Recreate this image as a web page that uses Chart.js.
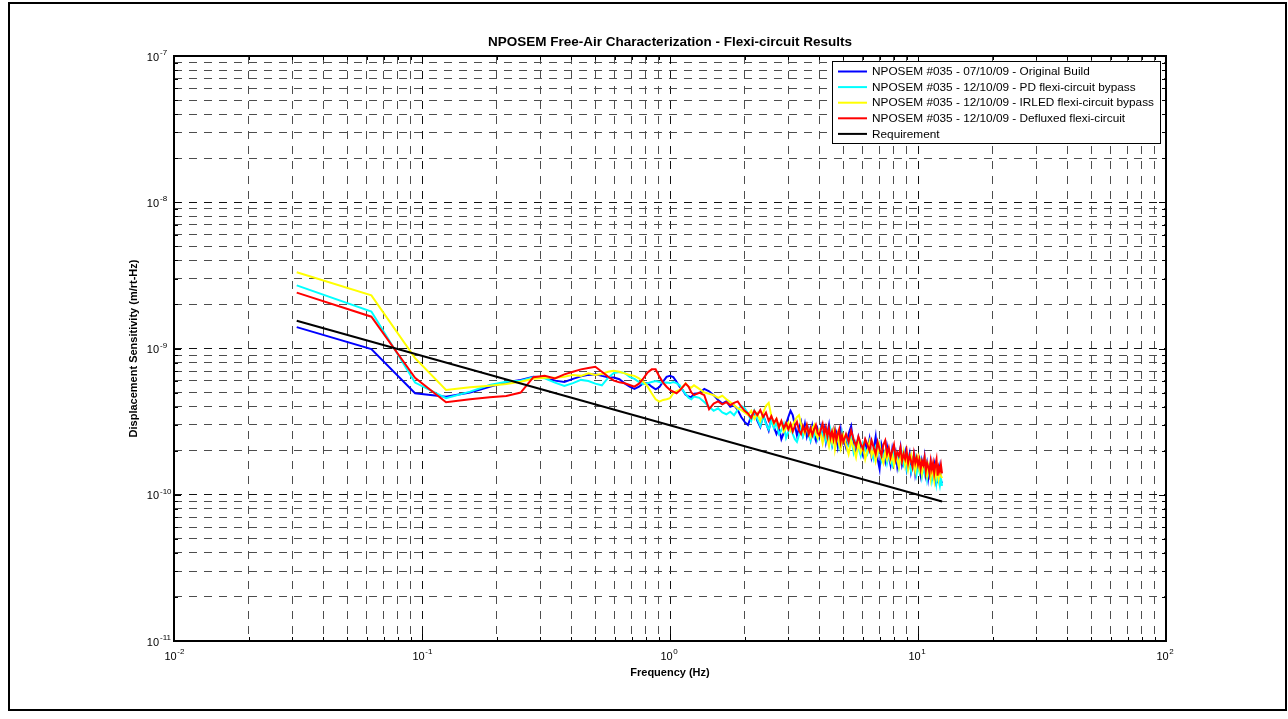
<!DOCTYPE html>
<html>
<head>
<meta charset="utf-8">
<title>NPOSEM Free-Air Characterization</title>
<script src="https://cdn.jsdelivr.net/npm/chart.js@4/dist/chart.umd.min.js"></script>
<style>
    body { margin: 0; background: #fff; }
    canvas { display: block; }
</style>
</head>
<body>
<canvas id="sensChart" width="1288" height="719"></canvas>
<script>
// FFT bins at 1/32 Hz, every bin up to 1.25 Hz, then thinned out
const bins = [];
for (let k = 1; k <= 40; k++) bins.push(k);
for (let k = 42; k <= 160; k += 2) bins.push(k);
for (let k = 164; k <= 400; k += 4) bins.push(k);
const freqHz = bins.map(k => k / 32);

// sensitivity in units of 1e-10 m/rt-Hz, one value per bin
const originalBuild = [
    14.0, 9.9, 4.94, 4.68, 5.0, 5.48, 5.87, 6.09, 6.42, 6.35, 6.03, 5.9, 6.2, 6.45, 6.6, 6.66, 6.5, 6.37, 6.33, 6.16,
    5.78, 5.48, 5.3, 5.48, 5.78, 5.78, 5.48, 5.26, 5.45, 5.93, 6.4, 6.5, 6.37, 5.93, 5.48, 5.2, 4.82, 4.69, 4.65, 4.9,
    4.95, 5.3, 5.1, 4.8, 4.45, 4.2, 4.35, 4.0, 4.1, 3.8, 3.4, 3.15,
    3.0, 3.45, 3.7, 3.2, 2.9, 3.5, 3.1, 2.75, 3.35, 2.9, 2.6, 2.85, 2.4, 2.65, 3.05, 3.4, 3.75, 3.5,
    3.0, 2.55, 2.85, 3.15, 2.6, 3.05, 2.5, 2.8, 2.4, 2.95, 2.55, 2.35, 2.8, 2.5,
    2.9, 2.45, 2.8, 2.3, 2.65, 3.0, 2.4, 2.2, 2.7, 2.35, 2.6, 2.15, 2.5, 2.8, 2.25, 2.45,
    2.1, 2.6, 2.95, 2.2, 1.95, 2.45, 2.05, 1.85, 2.3, 2.0,
    2.4, 1.8, 2.05, 2.5, 1.75, 1.5, 2.2, 1.95, 1.7, 2.15,
    1.85, 1.6, 2.05, 1.75, 1.95, 1.55, 1.8, 2.1, 1.6, 1.75,
    1.95, 1.5, 1.7, 1.9, 1.45, 1.65, 1.85, 1.4, 1.6, 1.75,
    1.5, 1.35, 1.7, 1.55, 1.8, 1.4, 1.6, 1.3, 1.5, 1.65,
    1.25, 1.45, 1.6, 1.3, 1.5, 1.2, 1.4, 1.55, 1.25, 1.2
];
const pdBypass = [
    27.0, 17.9, 5.85, 4.57, 5.07, 5.63, 5.93, 6.03, 6.37, 6.25, 5.84, 5.55, 5.8, 6.1, 6.0, 5.75, 5.6, 6.3, 6.8, 6.9,
    6.8, 6.4, 6.2, 5.9, 5.7, 5.8, 5.9, 6.0, 5.9, 5.8, 5.85, 5.8, 5.9, 5.8, 5.6, 5.2, 4.9, 4.6, 4.5, 4.7,
    4.6, 4.3, 4.0, 3.75, 3.9, 3.65, 3.55, 3.7, 3.5, 3.8, 4.05, 3.9,
    3.6, 3.2, 3.75, 3.3, 2.95, 3.45, 3.05, 2.8, 3.2, 2.85, 3.1, 2.6, 2.75, 3.05, 2.45, 2.7, 3.0, 2.6,
    2.4, 2.3, 2.55, 2.85, 2.5, 2.75, 2.95, 2.55, 2.35, 2.75, 2.5, 2.8, 2.4, 2.6,
    2.85, 2.45, 2.7, 2.35, 2.6, 2.25, 2.7, 2.2, 2.5, 2.75, 2.3, 2.55, 2.15, 2.4, 2.65, 2.3,
    2.55, 2.2, 2.45, 1.95, 2.3, 2.1, 1.85, 2.25, 2.05, 1.9,
    2.15, 1.95, 1.75, 2.1, 1.9, 2.2, 1.7, 1.85, 2.0, 1.65,
    1.9, 1.75, 1.6, 1.95, 1.7, 1.85, 1.55, 1.75, 1.9, 1.6,
    1.7, 1.5, 1.8, 1.6, 1.45, 1.7, 1.55, 1.75, 1.4, 1.6,
    1.45, 1.65, 1.35, 1.55, 1.4, 1.6, 1.3, 1.5, 1.35, 1.45,
    1.25, 1.4, 1.3, 1.5, 1.2, 1.35, 1.25, 1.15, 1.3, 1.15
];
const irledBypass = [
    33.2, 23.1, 8.6, 5.2, 5.43, 5.57, 5.72, 5.93, 6.2, 6.3, 6.3, 6.42, 6.6, 6.5, 6.76, 6.59, 6.7, 6.94, 7.05, 6.94,
    6.76, 6.59, 6.5, 6.25, 5.93, 5.48, 4.94, 4.5, 4.33, 4.45, 4.5, 4.58, 4.94, 5.1, 5.2, 5.48, 5.78, 5.48, 5.4, 5.6,
    5.3, 5.0, 4.9, 4.8, 4.6, 4.75, 4.5, 4.3, 4.1, 3.9, 3.8, 3.65,
    3.5, 3.75, 3.3, 3.6, 3.2, 3.65, 4.05, 4.25, 3.45, 3.05, 3.3, 2.9, 3.15, 2.7, 2.85, 3.1, 2.75, 3.0,
    3.2, 3.4, 3.5, 3.05, 2.75, 2.6, 2.95, 2.7, 2.5, 2.85, 3.0, 2.6, 2.45, 2.75,
    2.55, 2.25, 2.6, 2.8, 2.4, 2.15, 2.5, 2.3, 2.65, 2.05, 2.35, 2.6, 2.2, 2.05, 2.35, 2.55,
    2.2, 1.9, 2.35, 2.1, 1.8, 2.25, 1.95, 2.15, 1.75, 2.0,
    2.3, 1.85, 2.05, 1.7, 1.95, 2.2, 1.8, 1.65, 1.95, 1.75,
    2.0, 1.7, 1.85, 1.6, 1.9, 1.75, 1.55, 1.85, 1.7, 1.95,
    1.6, 1.8, 1.5, 1.7, 1.85, 1.55, 1.7, 1.45, 1.65, 1.8,
    1.5, 1.65, 1.4, 1.6, 1.75, 1.45, 1.35, 1.6, 1.5, 1.3,
    1.55, 1.4, 1.25, 1.5, 1.35, 1.6, 1.3, 1.45, 1.35, 1.3
];
const defluxed = [
    24.1, 16.5, 6.3, 4.29, 4.5, 4.65, 4.74, 5.0, 6.37, 6.5, 6.25, 6.66, 6.94, 7.2, 7.35, 7.5, 6.94, 6.42, 6.03, 5.87,
    5.78, 5.63, 5.48, 5.75, 6.25, 6.87, 7.2, 7.2, 6.42, 5.85, 5.48, 5.2, 5.07, 4.94, 5.15, 5.45, 5.75, 5.5, 5.0, 4.8,
    5.0, 4.8, 3.85, 4.2, 4.35, 4.15, 4.3, 4.1, 4.25, 4.35, 4.0, 3.75,
    3.6, 3.35, 3.75, 3.5, 3.8, 3.4, 3.65, 3.2, 3.45, 3.1, 3.3, 2.9, 3.2, 2.85, 3.1, 2.8, 3.05, 2.7,
    2.95, 3.15, 2.75, 2.6, 2.95, 2.7, 3.0, 2.6, 2.85, 2.55, 2.8, 3.0, 2.65, 2.55,
    2.8, 3.05, 2.6, 2.9, 2.5, 2.85, 2.45, 2.7, 2.4, 2.75, 2.35, 2.6, 2.8, 2.3, 2.55, 2.3,
    2.6, 2.3, 2.75, 2.4, 2.15, 2.5, 2.25, 2.05, 2.4, 2.2,
    2.0, 2.35, 2.1, 1.9, 2.3, 2.05, 1.85, 2.2, 2.35, 1.9,
    2.1, 1.8, 2.0, 2.2, 1.75, 1.95, 1.85, 2.1, 1.7, 1.9,
    1.75, 2.0, 1.65, 1.85, 1.7, 1.55, 1.9, 1.65, 1.8, 1.6,
    1.75, 1.5, 1.7, 1.6, 1.8, 1.45, 1.65, 1.55, 1.4, 1.7,
    1.5, 1.65, 1.4, 1.6, 1.75, 1.35, 1.55, 1.45, 1.6, 1.4
];

// requirement line end points (Hz, m/rt-Hz)
const reqFreq = [0.03125, 12.5];
const reqLevel = [1.55e-9, 9.0e-11];

const seriesNames = [
    "NPOSEM #035 - 07/10/09 - Original Build",
    "NPOSEM #035 - 12/10/09 - PD flexi-circuit bypass",
    "NPOSEM #035 - 12/10/09 - IRLED flexi-circuit bypass",
    "NPOSEM #035 - 12/10/09 - Defluxed flexi-circuit",
    "Requirement"
];
const seriesColors = ["#0000ff", "#00ffff", "#ffff00", "#ff0000", "#000000"];

const xDecades = [-2, -1, 0, 1, 2];
const yDecades = [-11, -10, -9, -8, -7];

const FONT = '"Liberation Sans", Arial, Helvetica, sans-serif';

function logTicks(decades) {
    const out = [];
    for (let i = 0; i < decades.length; i++) {
        const base = Math.pow(10, decades[i]);
        const last = i === decades.length - 1 ? 1 : 9;
        for (let m = 1; m <= last; m++) out.push({ value: m * base });
    }
    return out;
}

function isDecade(v) {
    const l = Math.log10(v);
    return Math.abs(l - Math.round(l)) < 1e-6;
}

function toPoints(vals) {
    return freqHz.map((f, i) => ({ x: f, y: vals[i] * 1e-10 }));
}

// axes box, inward ticks, labels and legend drawn in the MATLAB figure style
const figureDecor = {
    id: "figureDecor",
    afterDraw(chart) {
        const ctx = chart.ctx;
        const a = chart.chartArea;
        const xs = chart.scales.x;
        const ys = chart.scales.y;
        ctx.save();

        // ticks on all four sides
        ctx.strokeStyle = "#000";
        ctx.lineWidth = 1;
        ctx.beginPath();
        xs.ticks.forEach(t => {
            const px = Math.round(xs.getPixelForValue(t.value)) + 0.5;
            const len = isDecade(t.value) ? 7 : 4;
            ctx.moveTo(px, a.bottom); ctx.lineTo(px, a.bottom - len);
            ctx.moveTo(px, a.top); ctx.lineTo(px, a.top + len);
        });
        ys.ticks.forEach(t => {
            const py = Math.round(ys.getPixelForValue(t.value)) + 0.5;
            const len = isDecade(t.value) ? 7 : 4;
            ctx.moveTo(a.left, py); ctx.lineTo(a.left + len, py);
            ctx.moveTo(a.right, py); ctx.lineTo(a.right - len, py);
        });
        ctx.stroke();

        // axes box
        ctx.lineWidth = 2;
        ctx.strokeRect(a.left, a.top, a.right - a.left, a.bottom - a.top);

        // tick labels as 10 with a superscript exponent
        ctx.fillStyle = "#000";
        ctx.textBaseline = "alphabetic";
        yDecades.forEach(e => {
            const py = ys.getPixelForValue(Math.pow(10, e));
            ctx.font = "11px " + FONT;
            ctx.textAlign = "right";
            ctx.fillText("10", 159, py + 4.5);
            ctx.font = "8px " + FONT;
            ctx.textAlign = "left";
            ctx.fillText(String(e), 160, py - 1);
        });
        xDecades.forEach(e => {
            const px = xs.getPixelForValue(Math.pow(10, e));
            ctx.font = "11px " + FONT;
            ctx.textAlign = "left";
            ctx.fillText("10", px - 9.5, a.bottom + 19);
            const w = ctx.measureText("10").width;
            ctx.font = "8px " + FONT;
            ctx.fillText(String(e), px - 9.5 + w + 0.5, a.bottom + 13);
        });

        // title and axis labels
        const cx = (a.left + a.right) / 2;
        ctx.textAlign = "center";
        ctx.font = "bold 13.5px " + FONT;
        ctx.fillText("NPOSEM Free-Air Characterization - Flexi-circuit Results", cx, 46);
        ctx.font = "bold 11px " + FONT;
        ctx.fillText("Frequency (Hz)", cx, 676);
        ctx.save();
        ctx.translate(137, (a.top + a.bottom) / 2);
        ctx.rotate(-Math.PI / 2);
        ctx.fillText("Displacement Sensitivity (m/rt-Hz)", 0, 0);
        ctx.restore();

        // legend
        const lx = 832, ly = 61, lw = 328, lh = 82;
        ctx.fillStyle = "#fff";
        ctx.fillRect(lx, ly, lw, lh);
        ctx.strokeStyle = "#000";
        ctx.lineWidth = 1;
        ctx.strokeRect(lx + 0.5, ly + 0.5, lw, lh);
        ctx.font = "11.8px " + FONT;
        ctx.textAlign = "left";
        ctx.textBaseline = "middle";
        seriesNames.forEach((name, i) => {
            const ry = ly + 10.5 + i * 15.6;
            ctx.strokeStyle = seriesColors[i];
            ctx.lineWidth = 2;
            ctx.beginPath();
            ctx.moveTo(838, ry);
            ctx.lineTo(867, ry);
            ctx.stroke();
            ctx.fillStyle = "#000";
            ctx.fillText(name, 872, ry + 0.5);
        });

        // figure border
        ctx.strokeStyle = "#000";
        ctx.lineWidth = 2;
        ctx.strokeRect(9, 3, 1277, 707);

        ctx.restore();
    }
};

function gridColor(c) {
    return isDecade(c.tick.value) ? "#111111" : "#4d4d4d";
}

const ctx = document.getElementById("sensChart").getContext("2d");

const sensChart = new Chart(ctx, {
    type: "line",
    data: {
        datasets: [
            { label: seriesNames[0], data: toPoints(originalBuild), borderColor: seriesColors[0], order: 5 },
            { label: seriesNames[1], data: toPoints(pdBypass), borderColor: seriesColors[1], order: 4 },
            { label: seriesNames[2], data: toPoints(irledBypass), borderColor: seriesColors[2], order: 3 },
            { label: seriesNames[3], data: toPoints(defluxed), borderColor: seriesColors[3], order: 2 },
            {
                label: seriesNames[4],
                data: reqFreq.map((f, i) => ({ x: f, y: reqLevel[i] })),
                borderColor: seriesColors[4],
                order: 1
            }
        ]
    },
    options: {
        responsive: false,
        animation: false,
        layout: { padding: { left: 174, top: 56, right: 122, bottom: 78 } },
        elements: {
            point: { radius: 0 },
            line: { borderWidth: 2, tension: 0, fill: false }
        },
        plugins: {
            legend: { display: false },
            title: { display: false },
            tooltip: { enabled: false }
        },
        scales: {
            x: {
                type: "logarithmic",
                min: 0.01,
                max: 100,
                afterBuildTicks: s => { s.ticks = logTicks(xDecades); },
                afterFit: s => { s.height = 0; },
                ticks: { display: false, autoSkip: false },
                grid: { color: gridColor, lineWidth: 1, drawTicks: false },
                border: { display: false, dash: [8, 7] }
            },
            y: {
                type: "logarithmic",
                min: 1e-11,
                max: 1e-7,
                afterBuildTicks: s => { s.ticks = logTicks(yDecades); },
                afterFit: s => { s.width = 0; },
                ticks: { display: false, autoSkip: false },
                grid: { color: gridColor, lineWidth: 1, drawTicks: false },
                border: { display: false, dash: [8, 7] }
            }
        }
    },
    plugins: [figureDecor]
});
</script>
</body>
</html>
